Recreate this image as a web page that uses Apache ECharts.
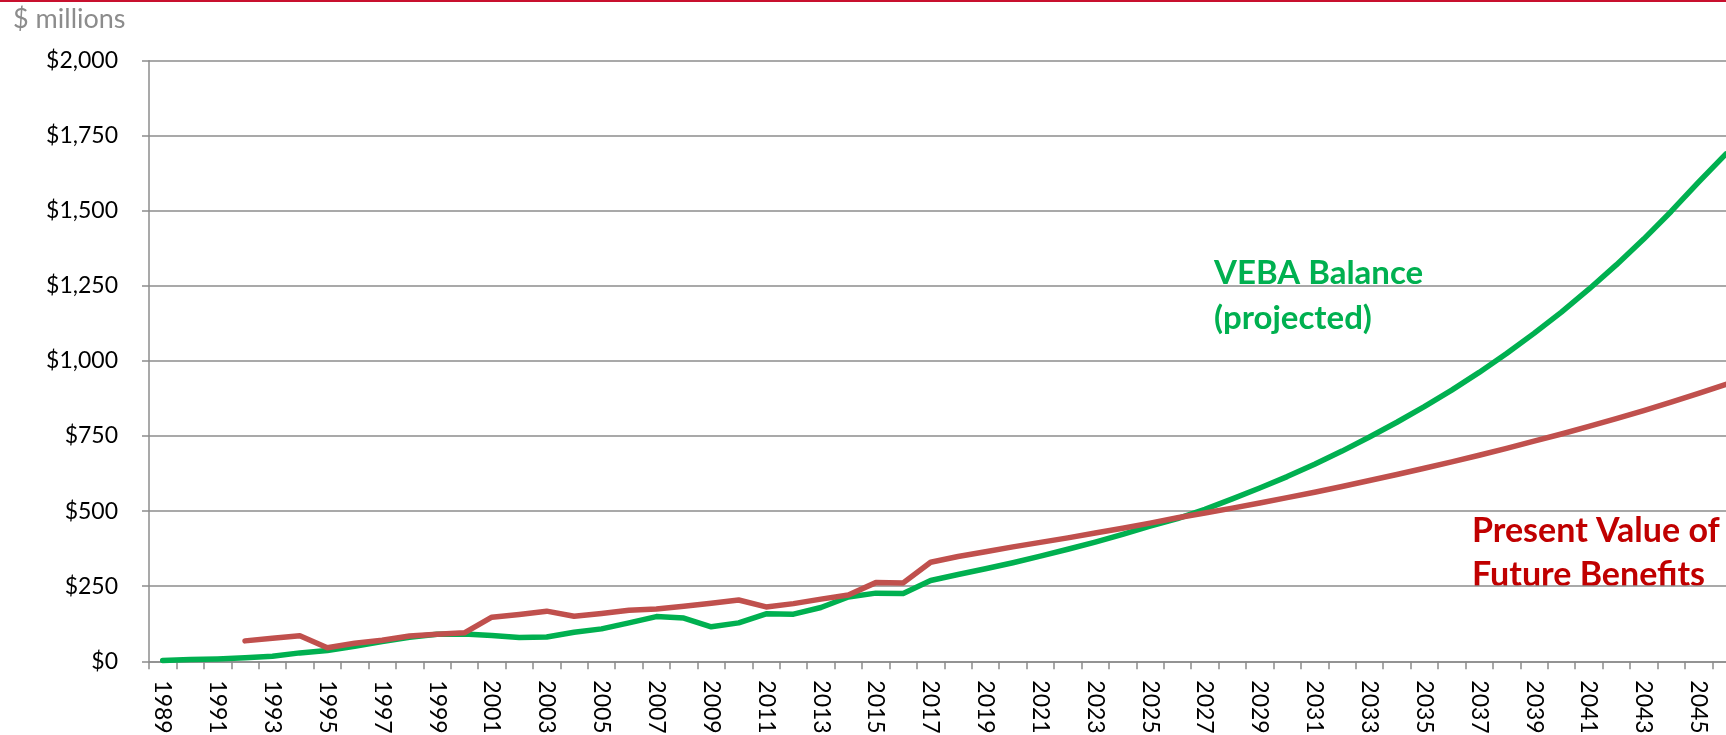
<!DOCTYPE html>
<html>
<head>
<meta charset="utf-8">
<script src="https://cdn.jsdelivr.net/npm/echarts@6/dist/echarts.min.js"></script>
<style>
html,body{margin:0;padding:0;background:#fff;}
#chart{width:1726px;height:735px;}
</style>
</head>
<body>
<div id="chart"></div>
<script>
const years = ['1989','1990','1991','1992','1993','1994','1995','1996','1997','1998',
  '1999','2000','2001','2002','2003','2004','2005','2006','2007','2008',
  '2009','2010','2011','2012','2013','2014','2015','2016','2017','2018',
  '2019','2020','2021','2022','2023','2024','2025','2026','2027','2028',
  '2029','2030','2031','2032','2033','2034','2035','2036','2037','2038',
  '2039','2040','2041','2042','2043','2044','2045','2046'];

const vebaBalance = [3,6,8,12,17,28,36,50,66,80,
  90,91,86,79,81,97,108,128,149,144,
  115,128,158,157,179,214,227,226,269,289,
  308,328,350,373,397,423,450,475,506,541,
  577,615,656,700,747,796,848,903,962,1025,
  1092,1163,1239,1320,1406,1498,1596,1690];

const pvFutureBenefits = [null,null,null,68,77,85,45,60,70,84,
  90,95,147,156,167,150,159,170,174,183,
  193,204,181,192,207,221,262,261,330,349,
  365,381,396,411,427,443,460,478,494,510,
  527,545,563,582,602,622,643,664,686,709,
  733,757,782,808,835,863,892,922];

const yTicks = [0,250,500,750,1000,1250,1500,1750,2000];

const chart = echarts.init(document.getElementById('chart'), null, {renderer:'canvas'});
const gray = '#8c8c8c';
chart.setOption({
  animation:false,
  backgroundColor:'#ffffff',
  grid:{left:149, top:60.7, width:1590.7, height:600.6, containLabel:false, outerBoundsMode:'none'},
  xAxis:{
    type:'category', data:years, boundaryGap:true,
    axisLine:{lineStyle:{color:gray, width:1.5}},
    axisTick:{show:true, interval:0, length:8, lineStyle:{color:gray, width:1.5}},
    axisLabel:{interval:1, rotate:-90, margin:19, color:'#000', fontFamily:'Lato', fontSize:23},
    splitLine:{show:false}
  },
  yAxis:{
    type:'value', min:yTicks[0], max:yTicks[yTicks.length-1], interval:250,
    axisLine:{show:true, lineStyle:{color:gray, width:1.5}},
    axisTick:{show:true, length:7, lineStyle:{color:gray, width:1.5}},
    axisLabel:{margin:31, color:'#000', fontFamily:'Lato', fontSize:23,
      formatter:function(v){return '$'+v.toLocaleString('en-US');}},
    splitLine:{show:true, lineStyle:{color:gray, width:1.5}}
  },
  series:[
    {name:'VEBA Balance', type:'line', data:vebaBalance, symbol:'none', z:3,
      lineStyle:{color:'#00B050', width:5.5, cap:'round', join:'round'}},
    {name:'Present Value of Future Benefits', type:'line', data:pvFutureBenefits, symbol:'none', z:4,
      connectNulls:false,
      lineStyle:{color:'#C0504D', width:5.5, cap:'round', join:'round'}}
  ],
  graphic:[
    {type:'rect', left:0, top:0, shape:{width:1726, height:2}, style:{fill:'#C8102E'}},
    {type:'text', x:13, y:19, style:{text:'$ millions', font:'27px Lato', fill:'#8c8c8c', verticalAlign:'middle', align:'left'}},
    {type:'text', x:1214, y:273, style:{text:'VEBA Balance', font:'bold 33px Lato', fill:'#00B050', verticalAlign:'middle', align:'left'}},
    {type:'text', x:1214, y:318, style:{text:'(projected)', font:'bold 33px Lato', fill:'#00B050', verticalAlign:'middle', align:'left'}},
    {type:'text', x:1472, y:531, style:{text:'Present Value of', font:'bold 34px Lato', fill:'#C00000', verticalAlign:'middle', align:'left'}},
    {type:'text', x:1472, y:575, style:{text:'Future Benefits', font:'bold 34px Lato', fill:'#C00000', verticalAlign:'middle', align:'left'}}
  ]
});
</script>
</body>
</html>
